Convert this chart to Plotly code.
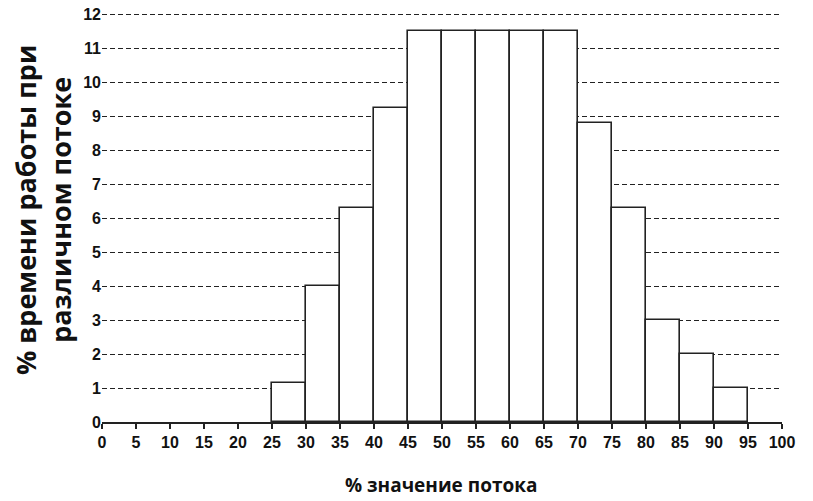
import plotly.graph_objects as go

bin_left = [25, 30, 35, 40, 45, 50, 55, 60, 65, 70, 75, 80, 85, 90]
values = [1.15, 4.0, 6.3, 9.25, 11.5, 11.5, 11.5, 11.5, 11.5, 8.8, 6.3, 3.0, 2.0, 1.0]
bin_width = 5
x_ticks = list(range(0, 101, 5))
y_ticks = list(range(0, 13))
x_title = "% значение потока"
y_title = "% времени работы при<br>различном потоке"

centers = [b + bin_width / 2 for b in bin_left]

fig = go.Figure(go.Bar(
    x=centers, y=values, width=[bin_width] * len(values),
    marker=dict(color="white", line=dict(color="#222222", width=1.6)),
    hoverinfo="skip",
))

# page is offset by the default 8px body margin
W, H = 805, 493
L, R, T, B = 94, 31, 4, 79
pw, ph = W - L - R, H - T - B
unit = 34.0
y_top = ph / unit

tick_font = dict(family="Liberation Sans, Arial", size=16, color="#111111", weight="bold")

fig.update_layout(
    width=W, height=H,
    margin=dict(l=L, r=R, t=T, b=B, autoexpand=False),
    plot_bgcolor="white", paper_bgcolor="white",
    showlegend=False,
    bargap=0,
    font=tick_font,
    xaxis=dict(
        range=[0, 100], tickvals=x_ticks, ticktext=["<b>%d</b>" % v for v in x_ticks],
        showgrid=False, zeroline=False, automargin=False,
        showline=True, linecolor="#222222", linewidth=1.5,
        ticks="outside", ticklen=5, tickwidth=1.5, tickcolor="#222222",
        tickfont=tick_font, ticklabeloverflow="allow",
    ),
    yaxis=dict(
        range=[0, y_top], tickvals=y_ticks, ticktext=["<b>%d</b>" % v for v in y_ticks],
        showgrid=True, gridcolor="#222222", gridwidth=1.3, griddash="5px,3px",
        zeroline=False, showline=False, ticks="", automargin=False,
        tickfont=tick_font, ticklabeloverflow="allow",
    ),
    annotations=[
        dict(text=x_title, xref="paper", yref="paper",
             x=(433 - L) / pw, y=-(477 - (H - B)) / ph, xanchor="center", yanchor="middle",
             showarrow=False, font=dict(family="Open Sans, DejaVu Sans", size=19, weight="bold", color="#111111")),
        dict(text=y_title, xref="paper", yref="paper",
             x=(35 - L) / pw, y=(H - B - 202) / ph, xanchor="center", yanchor="middle", textangle=-90,
             showarrow=False, font=dict(family="Open Sans, DejaVu Sans", size=27, weight="bold", color="#111111")),
    ],
)

fig.write_html("out.html")
